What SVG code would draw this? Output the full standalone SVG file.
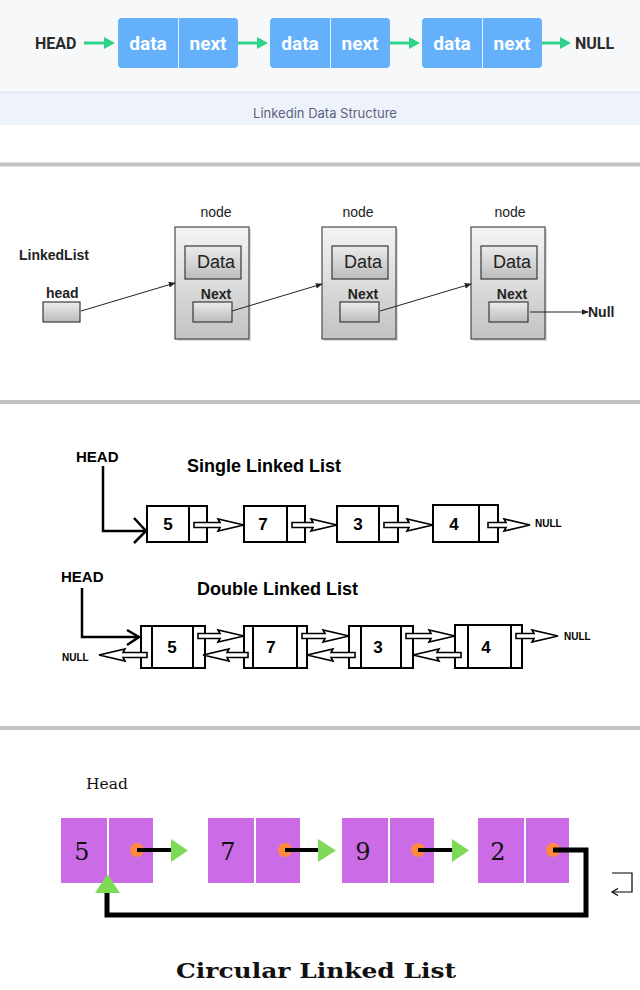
<svg xmlns="http://www.w3.org/2000/svg" width="640" height="990" viewBox="0 0 640 990">
<style>
.s1lbl{font-family:Roboto,"Liberation Sans",sans-serif;font-weight:bold;font-size:16px;fill:#2b2b2b}
.s1box{fill:#64b0fb}
.s1txt{font-family:Roboto,"Liberation Sans",sans-serif;font-weight:bold;font-size:19px;fill:#ffffff;text-anchor:middle}
.garrow{stroke:#2dd38a;stroke-width:3;fill:none}
.ghead{fill:#2dd38a}
.sep{fill:#c2c2c2}
.s2node{fill:url(#gNode);stroke:#4a4a4a;stroke-width:1.2}
.s2in{fill:url(#gIn);stroke:#3a3a3a;stroke-width:1.2}
.s2t{font-family:"Liberation Sans",Arial,sans-serif;fill:#222}
.s2c{stroke:#222;stroke-width:1;fill:none}
.cal{font-family:"Liberation Sans",Arial,sans-serif;font-weight:bold;fill:#000}
.box3{fill:#fff;stroke:#000;stroke-width:2}
.hol{fill:#fff;stroke:#000;stroke-width:1.6;stroke-linejoin:miter}
.thick{stroke:#000;stroke-width:2.5;fill:none}
.mag{fill:#cb6ce6}
.dot{fill:#ff8a3d}
.blk{stroke:#000;stroke-width:4;fill:none}
.grn{fill:#7ed957}
.ser{font-family:"DejaVu Serif","Liberation Serif",serif;fill:#111}
</style>
<defs>
<linearGradient id="gNode" x1="0" y1="0" x2="0" y2="1">
<stop offset="0" stop-color="#f4f4f4"/><stop offset="1" stop-color="#c3c3c3"/>
</linearGradient>
<linearGradient id="gIn" x1="0" y1="0" x2="0" y2="1">
<stop offset="0" stop-color="#ececec"/><stop offset="1" stop-color="#bcbcbc"/>
</linearGradient>
<marker id="ah" viewBox="0 0 10 10" refX="9" refY="5" markerWidth="7" markerHeight="7" orient="auto" markerUnits="userSpaceOnUse">
<path d="M0,1 L10,5 L0,9 Z" fill="#222"/>
</marker>
</defs>

<!-- Section 1 background -->
<rect x="0" y="0" width="640" height="92" fill="#f7f8fa"/>
<rect x="0" y="92" width="640" height="33" fill="#eef3fb"/>
<rect x="0" y="91.5" width="640" height="1.2" fill="#dbe2ee"/>
<text x="325" y="118" font-family="Inter,'Noto Sans',sans-serif" font-size="13" fill="#5b6180" text-anchor="middle">Linkedin Data Structure</text>

<g id="s1-head"><text class="s1lbl" x="35" y="49">HEAD</text></g>
<g id="s1-node1">
<rect class="s1box" x="118" y="18" width="120" height="50" rx="4"/>
<line x1="178.5" y1="18" x2="178.5" y2="68" stroke="#e6f1fd" stroke-width="1"/>
<text class="s1txt" x="148" y="50">data</text><text class="s1txt" x="208" y="50">next</text>
</g>
<g id="s1-node2">
<rect class="s1box" x="270" y="18" width="120" height="50" rx="4"/>
<line x1="330.5" y1="18" x2="330.5" y2="68" stroke="#e6f1fd" stroke-width="1"/>
<text class="s1txt" x="300" y="50">data</text><text class="s1txt" x="360" y="50">next</text>
</g>
<g id="s1-node3">
<rect class="s1box" x="422" y="18" width="120" height="50" rx="4"/>
<line x1="482.5" y1="18" x2="482.5" y2="68" stroke="#e6f1fd" stroke-width="1"/>
<text class="s1txt" x="452" y="50">data</text><text class="s1txt" x="512" y="50">next</text>
</g>
<g id="s1-null"><text class="s1lbl" x="575" y="49">NULL</text></g>
<g id="s1-connectors">
<line class="garrow" x1="84" y1="43" x2="106" y2="43"/><path class="ghead" d="M104,37 L115,43 L104,49 Z"/>
<line class="garrow" x1="238" y1="43" x2="259" y2="43"/><path class="ghead" d="M257,37 L268,43 L257,49 Z"/>
<line class="garrow" x1="390" y1="43" x2="411" y2="43"/><path class="ghead" d="M409,37 L420,43 L409,49 Z"/>
<line class="garrow" x1="542" y1="43" x2="562" y2="43"/><path class="ghead" d="M560,37 L571,43 L560,49 Z"/>
</g>

<!-- separator -->
<rect class="sep" x="0" y="162.5" width="640" height="4"/>

<!-- Section 2 -->
<g id="s2-linkedlist">
<text class="s2t" x="19" y="260" font-size="14" font-weight="bold">LinkedList</text>
<text class="s2t" x="46" y="298" font-size="14" font-weight="bold">head</text>
<rect class="s2in" x="43" y="302" width="37" height="20"/>
</g>
<g id="s2-node1">
<text class="s2t" x="216" y="217" font-size="14" text-anchor="middle">node</text>
<rect x="177" y="229" width="74" height="112" fill="#bbb" opacity="0.5"/>
<rect class="s2node" x="175" y="227" width="74" height="112"/>
<rect class="s2in" x="185" y="246" width="56" height="33"/>
<text class="s2t" x="216" y="268" font-size="18" text-anchor="middle">Data</text>
<text class="s2t" x="216" y="299" font-size="14" font-weight="bold" text-anchor="middle">Next</text>
<rect class="s2in" x="193" y="302" width="39" height="20"/>
</g>
<g id="s2-node2">
<text class="s2t" x="358" y="217" font-size="14" text-anchor="middle">node</text>
<rect x="324" y="229" width="74" height="112" fill="#bbb" opacity="0.5"/>
<rect class="s2node" x="322" y="227" width="74" height="112"/>
<rect class="s2in" x="332" y="246" width="56" height="33"/>
<text class="s2t" x="363" y="268" font-size="18" text-anchor="middle">Data</text>
<text class="s2t" x="363" y="299" font-size="14" font-weight="bold" text-anchor="middle">Next</text>
<rect class="s2in" x="340" y="302" width="39" height="20"/>
</g>
<g id="s2-node3">
<text class="s2t" x="510" y="217" font-size="14" text-anchor="middle">node</text>
<rect x="473" y="229" width="74" height="112" fill="#bbb" opacity="0.5"/>
<rect class="s2node" x="471" y="227" width="74" height="112"/>
<rect class="s2in" x="481" y="246" width="56" height="33"/>
<text class="s2t" x="512" y="268" font-size="18" text-anchor="middle">Data</text>
<text class="s2t" x="512" y="299" font-size="14" font-weight="bold" text-anchor="middle">Next</text>
<rect class="s2in" x="489" y="302" width="39" height="20"/>
</g>
<g id="s2-null"><text class="s2t" x="588" y="317" font-size="14" font-weight="bold">Null</text></g>
<g id="s2-connectors">
<line class="s2c" x1="81" y1="311" x2="175" y2="283" marker-end="url(#ah)"/>
<line class="s2c" x1="232" y1="311" x2="322" y2="284" marker-end="url(#ah)"/>
<line class="s2c" x1="380" y1="311" x2="471" y2="284" marker-end="url(#ah)"/>
<line class="s2c" x1="530" y1="312" x2="588" y2="312" marker-end="url(#ah)"/>
</g>

<!-- separator -->
<rect class="sep" x="0" y="400" width="640" height="4"/>

<!-- Section 3: single -->
<g id="s3-single-title"><text class="cal" x="187" y="472" font-size="18">Single Linked List</text></g>
<g id="s3-head1"><text class="cal" x="76" y="462" font-size="15">HEAD</text></g>
<g id="s3-s5"><rect class="box3" x="147" y="506" width="60" height="36"/><line x1="189" y1="506" x2="189" y2="542" stroke="#000" stroke-width="2"/><text class="cal" x="168" y="530" font-size="17" text-anchor="middle">5</text></g>
<g id="s3-s7"><rect class="box3" x="244" y="506" width="61" height="36"/><line x1="287" y1="506" x2="287" y2="542" stroke="#000" stroke-width="2"/><text class="cal" x="263" y="530" font-size="17" text-anchor="middle">7</text></g>
<g id="s3-s3"><rect class="box3" x="337" y="506" width="61" height="36"/><line x1="379" y1="506" x2="379" y2="542" stroke="#000" stroke-width="2"/><text class="cal" x="358" y="530" font-size="17" text-anchor="middle">3</text></g>
<g id="s3-s4"><rect class="box3" x="433" y="505" width="65" height="37"/><line x1="479" y1="505" x2="479" y2="542" stroke="#000" stroke-width="2"/><text class="cal" x="454" y="530" font-size="17" text-anchor="middle">4</text></g>
<g id="s3-snull"><text class="cal" x="535" y="527" font-size="10">NULL</text></g>
<g id="s3-single-connectors">
<path class="thick" d="M103,466 V531 H146"/>
<path class="thick" d="M134,518 L146,531 L134,543"/>
<path class="hol" d="M194,522.5 H220 L218,519 L244,525 L218,531 L220,527.5 H194 Z"/>
<path class="hol" d="M292,522.5 H313 L311,519 L337,525 L311,531 L313,527.5 H292 Z"/>
<path class="hol" d="M384,522.5 H409 L407,519 L433,525 L407,531 L409,527.5 H384 Z"/>
<path class="hol" d="M488,522.5 H506 L504,519 L530,525 L504,531 L506,527.5 H488 Z"/>
</g>

<!-- Section 3: double -->
<g id="s3-double-title"><text class="cal" x="197" y="595" font-size="18">Double Linked List</text></g>
<g id="s3-head2"><text class="cal" x="61" y="582" font-size="15">HEAD</text></g>
<g id="s3-d5"><rect class="box3" x="141" y="626" width="64" height="42"/><line x1="152" y1="626" x2="152" y2="668" stroke="#000" stroke-width="2"/><line x1="193" y1="626" x2="193" y2="668" stroke="#000" stroke-width="2"/><text class="cal" x="172" y="653" font-size="17" text-anchor="middle">5</text></g>
<g id="s3-d7"><rect class="box3" x="244" y="626" width="63" height="42"/><line x1="253" y1="626" x2="253" y2="668" stroke="#000" stroke-width="2"/><line x1="297" y1="626" x2="297" y2="668" stroke="#000" stroke-width="2"/><text class="cal" x="271" y="653" font-size="17" text-anchor="middle">7</text></g>
<g id="s3-d3"><rect class="box3" x="349" y="626" width="64" height="42"/><line x1="361" y1="626" x2="361" y2="668" stroke="#000" stroke-width="2"/><line x1="401" y1="626" x2="401" y2="668" stroke="#000" stroke-width="2"/><text class="cal" x="378" y="653" font-size="17" text-anchor="middle">3</text></g>
<g id="s3-d4"><rect class="box3" x="455" y="625" width="67" height="43"/><line x1="468" y1="625" x2="468" y2="668" stroke="#000" stroke-width="2"/><line x1="511" y1="625" x2="511" y2="668" stroke="#000" stroke-width="2"/><text class="cal" x="486" y="653" font-size="17" text-anchor="middle">4</text></g>
<g id="s3-dnull-left"><text class="cal" x="62" y="661" font-size="10">NULL</text></g>
<g id="s3-dnull-right"><text class="cal" x="564" y="640" font-size="10">NULL</text></g>
<g id="s3-double-connectors">
<path class="thick" d="M82,588 V637 H139"/>
<path class="thick" d="M127,630 L139,637 L127,645"/>
<path class="hol" d="M198,633.5 H220 L218,630 L244,636 L218,642 L220,638.5 H198 Z"/>
<path class="hol" d="M302,633.5 H325 L323,630 L349,636 L323,642 L325,638.5 H302 Z"/>
<path class="hol" d="M406,633.5 H431 L429,630 L455,636 L429,642 L431,638.5 H406 Z"/>
<path class="hol" d="M516,633.5 H534 L532,630 L558,636 L532,642 L534,638.5 H516 Z"/>
<path class="hol" d="M248,652.5 H227 L229,649 L203,655 L229,661 L227,657.5 H248 Z"/>
<path class="hol" d="M355,652.5 H331 L333,649 L307,655 L333,661 L331,657.5 H355 Z"/>
<path class="hol" d="M461,652.5 H437 L439,649 L413,655 L439,661 L437,657.5 H461 Z"/>
<path class="hol" d="M147,652.5 H123 L125,649 L99,655 L125,661 L123,657.5 H147 Z"/>
</g>

<!-- separator -->
<rect class="sep" x="0" y="726" width="640" height="4"/>

<!-- Section 4 -->
<g id="s4-headlabel"><text class="ser" x="86" y="789" font-size="15.5">Head</text></g>
<g id="s4-n5">
<rect class="mag" x="61" y="818" width="46" height="65"/><rect class="mag" x="109" y="818" width="44" height="65"/>
<text class="ser" x="82" y="860" font-size="24" text-anchor="middle">5</text>
<circle class="dot" cx="137" cy="850" r="7"/>
</g>
<g id="s4-n7">
<rect class="mag" x="208" y="818" width="46" height="65"/><rect class="mag" x="256" y="818" width="44" height="65"/>
<text class="ser" x="228" y="860" font-size="24" text-anchor="middle">7</text>
<circle class="dot" cx="285" cy="850" r="7"/>
</g>
<g id="s4-n9">
<rect class="mag" x="342" y="818" width="46" height="65"/><rect class="mag" x="390" y="818" width="44" height="65"/>
<text class="ser" x="363" y="860" font-size="24" text-anchor="middle">9</text>
<circle class="dot" cx="418" cy="850" r="7"/>
</g>
<g id="s4-n2">
<rect class="mag" x="478" y="818" width="46" height="65"/><rect class="mag" x="526" y="818" width="43" height="65"/>
<text class="ser" x="498" y="860" font-size="24" text-anchor="middle">2</text>
<circle class="dot" cx="553" cy="850" r="7"/>
</g>
<g id="s4-connectors">
<line class="blk" x1="137" y1="850" x2="172" y2="850"/><path class="grn" d="M171,839 L188,850.5 L171,862 Z"/>
<line class="blk" x1="285" y1="850" x2="319" y2="850"/><path class="grn" d="M318,839 L336,850.5 L318,862 Z"/>
<line class="blk" x1="418" y1="850" x2="453" y2="850"/><path class="grn" d="M452,839 L469,850.5 L452,862 Z"/>
<path d="M553,850 H586 V915 H107 V890" stroke="#000" stroke-width="5" fill="none" stroke-linejoin="miter"/>
<path class="grn" d="M95,893 L107.5,874 L120,893 Z"/>
</g>
<g id="s4-icon">
<path d="M612,873 H632 V892 H613" stroke="#000" stroke-width="1.2" fill="none"/>
<path d="M618,888.5 L612,892 L618,895.5" stroke="#000" stroke-width="1.2" fill="none"/>
</g>
<g id="s4-title"><text class="ser" x="176" y="978" font-size="21" font-weight="bold" textLength="280" lengthAdjust="spacingAndGlyphs">Circular Linked List</text></g>
</svg>
